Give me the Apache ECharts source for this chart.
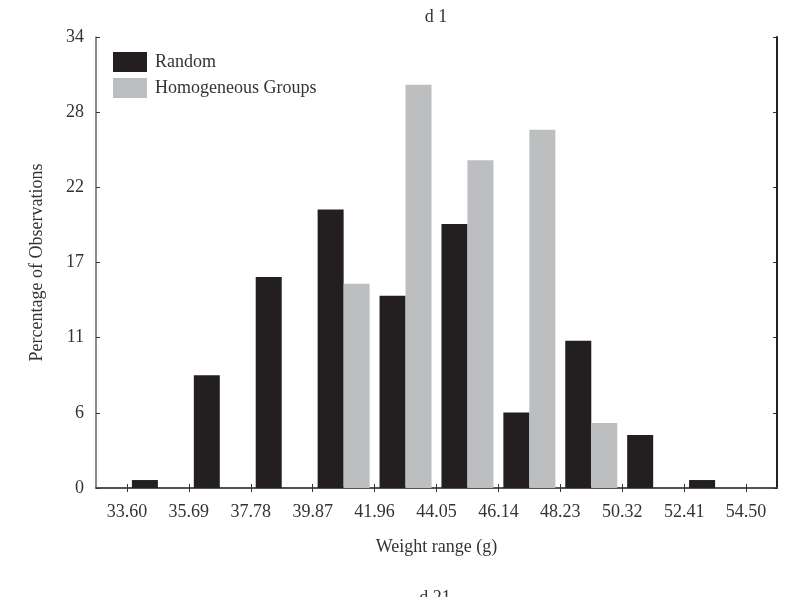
<!DOCTYPE html>
<html>
<head>
<meta charset="utf-8">
<script src="https://cdn.jsdelivr.net/npm/echarts@6/dist/echarts.min.js"></script>
<style>html,body{margin:0;padding:0;background:#fff}#c{width:792px;height:597px}</style>
</head>
<body>
<div id="c"></div>
<script>
var xTickLabels = ['33.60','35.69','37.78','39.87','41.96','44.05','46.14','48.23','50.32','52.41','54.50'];
var yTickLabels = ['0','6','11','17','22','28','34'];
var seriesNames = ['Random','Homogeneous Groups'];
var randomValues = [0.6, 8.5, 15.9, 21.0, 14.5, 19.9, 5.7, 11.1, 4.0, 0.6];
var homogeneousValues = [0, 0, 0, 15.4, 30.4, 24.7, 27.0, 4.9, 0, 0];
var chartTitle = 'd 1';
var nextTitle = 'd 21';
var xName = 'Weight range (g)';
var yName = 'Percentage of Observations';

var edges = xTickLabels.map(Number);
var step = edges[1] - edges[0];
var centers = [];
for (var i = 0; i < edges.length - 1; i++) centers.push((edges[i] + edges[i + 1]) / 2);
var xMin = edges[0] - step / 2, xMax = edges[edges.length - 1] + step / 2;
var yMax = Number(yTickLabels[yTickLabels.length - 1]);
var yInt = yMax / (yTickLabels.length - 1);

var FONT = '"Liberation Serif", "DejaVu Serif", serif';
var TXT = '#333';

var chart = echarts.init(document.getElementById('c'), null, {renderer: 'canvas'});
chart.setOption({
  animation: false,
  backgroundColor: '#fff',
  grid: {left: 96, right: 15, top: 37, bottom: 109, containLabel: false},
  graphic: [
    {type: 'text', x: 436, y: 17, style: {text: chartTitle, font: '18px ' + FONT, fill: TXT, align: 'center', verticalAlign: 'middle'}},
    {type: 'text', x: 435, y: 589, style: {text: nextTitle, font: '18px ' + FONT, fill: TXT, align: 'center', verticalAlign: 'top'}}
  ],
  legend: {
    orient: 'vertical', left: 113, top: 52, padding: 0, itemWidth: 34, itemHeight: 20, itemGap: 6,
    icon: 'rect',
    textStyle: {fontFamily: FONT, fontSize: 18, color: TXT, padding: [0, 0, 0, 3]},
    data: seriesNames
  },
  xAxis: [{
    type: 'value', min: xMin, max: xMax, position: 'bottom',
    name: xName, nameLocation: 'middle', nameGap: 50,
    nameTextStyle: {fontFamily: FONT, fontSize: 18, color: TXT},
    axisLine: {show: true, lineStyle: {color: '#555', width: 1.5}},
    axisTick: {show: true, inside: true, length: 4, customValues: edges, lineStyle: {color: '#333'}},
    axisLabel: {show: true, customValues: edges, margin: 15, fontFamily: FONT, fontSize: 18, color: TXT,
      formatter: function (v) { var k = edges.indexOf(v); return k >= 0 ? xTickLabels[k] : ''; }},
    splitLine: {show: false}
  }, {
    type: 'value', min: xMin, max: xMax, position: 'top',
    axisLine: {show: true, lineStyle: {color: '#444', width: 1.5}},
    axisTick: {show: true, inside: true, length: 4, customValues: edges, lineStyle: {color: '#333'}},
    axisLabel: {show: false},
    splitLine: {show: false}
  }],
  yAxis: [{
    type: 'value', min: 0, max: yMax, interval: yInt, position: 'left',
    name: yName, nameLocation: 'middle', nameGap: 50, nameRotate: 90,
    nameTextStyle: {fontFamily: FONT, fontSize: 18, color: TXT},
    axisLine: {show: true, lineStyle: {color: '#666', width: 1.5}},
    axisTick: {show: true, inside: true, length: 4, lineStyle: {color: '#333'}},
    axisLabel: {margin: 12, fontFamily: FONT, fontSize: 18, color: TXT,
      formatter: function (v) { return yTickLabels[Math.round(v / yInt)]; }},
    splitLine: {show: false}
  }, {
    type: 'value', min: 0, max: yMax, interval: yInt, position: 'right',
    axisLine: {show: true, lineStyle: {color: '#222', width: 2}},
    axisTick: {show: true, inside: true, length: 4, lineStyle: {color: '#333'}},
    axisLabel: {show: false},
    splitLine: {show: false}
  }],
  series: [{
    name: seriesNames[0], type: 'bar', xAxisIndex: 0, yAxisIndex: 0,
    barWidth: 26, barGap: '0%',
    itemStyle: {color: '#231f20'},
    data: centers.map(function (c, i) { return [c, randomValues[i]]; })
  }, {
    name: seriesNames[1], type: 'bar', xAxisIndex: 0, yAxisIndex: 0,
    barWidth: 26, barGap: '0%',
    itemStyle: {color: '#bcbec0'},
    data: centers.map(function (c, i) { return [c, homogeneousValues[i]]; })
  }]
});
</script>
</body>
</html>
